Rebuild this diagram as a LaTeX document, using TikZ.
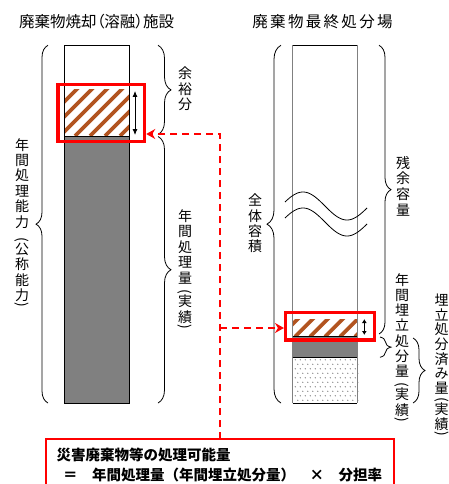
\documentclass[tikz,border=0pt]{standalone}
\usepackage{fontspec}
\usepackage{graphicx}
\setmainfont{Noto Sans CJK JP}
\usetikzlibrary{decorations.pathreplacing,arrows.meta}
\definecolor{hatchc}{RGB}{178,84,32}
\definecolor{barg}{RGB}{128,128,128}
\definecolor{dotc}{RGB}{125,125,125}
\newcommand{\vlparen}{\rotatebox{-90}{(}}
\newcommand{\vrparen}{\rotatebox{-90}{)}}
\begin{document}
\begin{tikzpicture}[x=1pt,y=-1pt,
  brc/.style={decorate, decoration={brace, amplitude=#1}, line width=0.8pt},
  brc/.default=13pt,
  vtext/.style={font=\fontsize{14}{15.3}\selectfont, align=center, inner sep=0pt, anchor=north},
  titletext/.style={font=\fontsize{15.5}{18}\selectfont, inner sep=0pt},
  redbox/.style={draw=red, line width=3.5pt, inner sep=0pt},
  dashline/.style={red, line width=1.5pt, dash pattern=on 7pt off 5pt, -{Stealth[length=9pt,width=10pt,inset=3pt]}},
  dimarrow/.style={line width=0.8pt, {Latex[length=#1,width=5pt]}-{Latex[length=#1,width=5pt]}},
  formula/.style={font=\bfseries\fontsize{14.5}{18}\selectfont, inner sep=0pt, anchor=west}]
\useasboundingbox (0,0) rectangle (449,484);

% titles
\node[titletext, font=\addfontfeatures{RawFeature=+palt}\fontsize{15.5}{18}\selectfont] (t1) at (96.7,22) {廃棄物焼却（溶融）施設};
\node[titletext, font=\addfontfeatures{LetterSpace=15}\fontsize{15.5}{18}\selectfont] (t2) at (322.5,22) {廃棄物最終処分場};

% ---------- left bar ----------
\fill[white] (64.3,45.3) rectangle (129,136);
\begin{scope}
  \clip (64.3,90) rectangle (129,136);
  \foreach \i in {-45,-30,...,135} \draw[hatchc, line width=3.6pt] (\i,136) -- ++(50,-50);
\end{scope}
\fill[barg] (64.3,136) rectangle (129,403);
\draw[black, line width=1pt] (64.3,136) -- (129,136);
\draw[black, line width=1pt] (64.3,45.3) rectangle (129,403);

% ---------- right bar ----------
\begin{scope}
  \clip (292.7,319) rectangle (357.3,336.7);
  \foreach \i in {265,280,...,360} \draw[hatchc, line width=3.6pt] (\i,336.7) -- ++(20,-20);
\end{scope}
\fill[barg] (292.7,336.7) rectangle (357.3,357.3);
\foreach \r in {0,...,9} {
  \pgfmathsetmacro{\yy}{359.8+4.5*\r}
  \pgfmathsetmacro{\xo}{mod(\r,2)*2.5}
  \foreach \c in {0,...,12} {
    \fill[dotc] ({295.3+\xo+5*\c},\yy) circle (0.65pt);
  }
}
\draw[barg, line width=1.2pt] (292.7,45.3) -- (292.7,403);
\draw[barg, line width=1.2pt] (357.3,45.3) -- (357.3,403);
\draw[black, line width=1pt] (292.7,45.3) -- (357.3,45.3);
\draw[black, line width=1pt] (292.7,336.7) -- (357.3,336.7);
\draw[black, line width=1pt] (292.7,357.3) -- (357.3,357.3);
\draw[black, line width=1pt] (292.7,403) -- (357.3,403);

% waves
\draw[line width=0.8pt] plot[domain=16.6:351.8, samples=60] ({285+0.24463*(\x-16.6)}, {206-14*sin(\x)});
\draw[line width=0.8pt] plot[domain=16.6:351.8, samples=60] ({285+0.24463*(\x-16.6)}, {222-14*sin(\x)});

% ---------- braces ----------
\draw[brc=12pt] (48,403) -- (48,45.3);
\draw[brc=13pt] (158,45.3) -- (158,134.5);
\draw[brc=13pt] (158,136.5) -- (158,403);
\draw[brc=14pt] (281,403) -- (281,45.3);
\draw[brc=12pt] (379,45.3) -- (379,334);
\draw[brc=11pt] (380,337) -- (380,357.3);
\draw[brc=12pt] (413,338) -- (413,403);

% ---------- vertical labels ----------
\node[vtext, font=\fontsize{14}{15.4}\selectfont] (l1) at (22,138) {年\\間\\処\\理\\能\\力\\[-5pt]\vlparen\\公\\称\\能\\力\\[-13.4pt]\vrparen};
\node[vtext] (l2) at (185,67) {余\\裕\\分};
\node[vtext, font=\fontsize{14}{15.5}\selectfont] (l3) at (185,209) {年\\間\\処\\理\\量\\[-9.1pt]\vlparen\\実\\績\\[-13.5pt]\vrparen};
\node[vtext] (l4) at (255,194) {全\\体\\容\\積};
\node[vtext, font=\fontsize{14}{15.7}\selectfont] (l5) at (403,156) {残\\余\\容\\量};
\node[vtext] (l6) at (402,273) {年\\間\\埋\\立\\処\\分\\量\\[-9.7pt]\vlparen\\実\\績\\[-13.3pt]\vrparen};
\node[vtext, font=\fontsize{14}{14.6}\selectfont] (l7) at (441.7,294) {埋\\立\\処\\分\\済\\み\\量\\[-10.5pt]\vlparen\\実\\績\\[-12.6pt]\vrparen};

% ---------- red boxes ----------
\node[redbox, minimum width=86.5pt, minimum height=57pt] (lbox) at (101.25,113) {};
\node[redbox, minimum width=88.6pt, minimum height=27.3pt] (rbox) at (330,326.35) {};

% dimension arrows
\coordinate (la1) at (135,91);
\coordinate (la2) at (135,135);
\draw[dimarrow=6pt] (la1) -- (la2);
\coordinate (ra1) at (364.3,319);
\coordinate (ra2) at (364.3,335);
\draw[dimarrow=4pt] (ra1) -- (ra2);

% ---------- formula box ----------
\draw[red, line width=1.5pt] (46,485) |- (394,439) -- (394,485);
\node[formula] (f1) at (56.5,455) {災害廃棄物等の処理可能量};
\node[formula] (f2) at (63,475) {＝　年間処理量（年間埋立処分量）　×　分担率};

% ---------- dashed connectors ----------
\coordinate (ftop) at (220,439);
\coordinate (j1) at (220,134);
\coordinate (j2) at (220,328);
\draw[dashline] (ftop) -- (j1) -- (j1 -| lbox.east);
\draw[dashline] (j2) -- (j2 -| rbox.west);
\end{tikzpicture}
\end{document}
